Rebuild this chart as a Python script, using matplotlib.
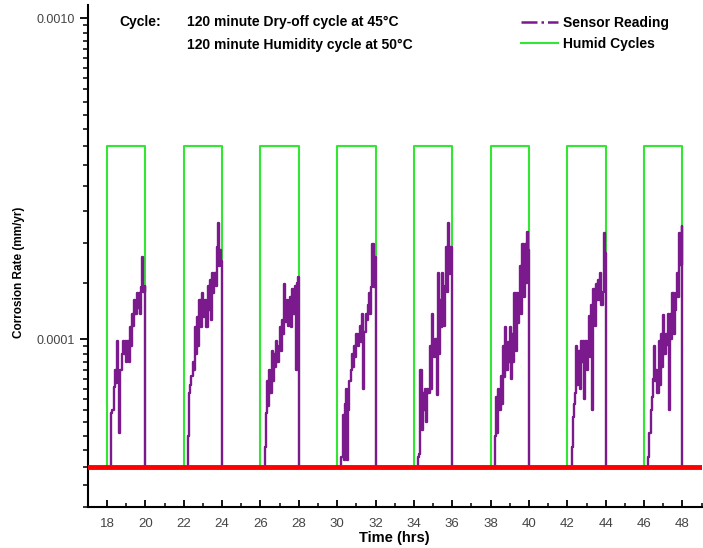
import numpy as np
import matplotlib
matplotlib.use("Agg")
import matplotlib.pyplot as plt
from matplotlib.lines import Line2D
from matplotlib.ticker import FixedLocator, FixedFormatter

plt.rcParams['font.family'] = ['Liberation Sans', 'DejaVu Sans']

# humid cycles (hrs) - 120 min humid / 120 min dry
humid_starts = [18, 22, 26, 30, 34, 38, 42, 46]
humid_length = 2.0
humid_low = 4.0e-5
humid_high = 4.0e-4

# sensor reading, sampled inside each humid cycle (units of 1e-5 mm/yr)
sample_offsets = np.round(np.arange(0.22, 1.97, 0.06), 2)
cycle1 = [5.9, 6.0, 7.1, 8.0, 7.3, 9.9, 7.5, 5.1, 8.0, 9.0, 9.9, 9.0, 9.9, 8.5, 9.9,
          8.5, 10.9, 9.5, 12.0, 11.0, 13.2, 12.0, 13.9, 12.5, 13.9, 12.0, 14.5, 18.0, 14.0, 14.6]
cycle2 = [5.0, 6.8, 7.2, 7.7, 8.5, 8.0, 10.9, 9.0, 11.7, 9.5, 13.2, 10.9, 13.9, 11.7, 12.3,
          13.2, 10.9, 14.6, 12.3, 15.3, 11.5, 16.1, 13.9, 16.1, 14.6, 19.4, 23.0, 16.9, 19.0, 17.5]
cycle3 = [4.6, 5.9, 7.4, 6.2, 8.0, 6.8, 9.2, 7.4, 9.0, 8.2, 9.9, 8.5, 9.5, 10.9, 9.2,
          11.5, 10.4, 14.9, 11.3, 13.2, 11.0, 12.3, 13.5, 10.9, 14.3, 12.0, 14.6, 8.0, 15.0, 15.6]
cycle4 = [4.3, 5.8, 4.2, 6.3, 7.0, 4.2, 6.0, 7.4, 8.0, 9.0, 8.2, 9.5, 8.8, 10.4, 9.5,
          10.4, 11.0, 9.8, 12.0, 7.0, 10.5, 12.0, 11.5, 12.8, 13.9, 12.0, 14.5, 19.8, 14.5, 18.0]
cycle5 = [4.3, 4.4, 8.0, 5.2, 6.8, 6.0, 7.0, 5.5, 7.0, 6.8, 9.5, 7.0, 12.0, 9.0, 8.8,
          10.0, 6.7, 16.1, 9.0, 13.2, 10.9, 16.1, 11.0, 14.6, 19.4, 14.0, 23.0, 16.0, 19.4, 16.5]
cycle6 = [5.0, 6.6, 5.1, 7.0, 6.0, 7.7, 6.3, 9.5, 7.6, 10.9, 8.0, 9.8, 8.5, 10.9, 7.5,
          10.4, 8.5, 13.9, 9.2, 13.9, 11.2, 12.8, 16.9, 12.0, 19.8, 13.5, 19.8, 15.0, 21.5, 19.0]
cycle7 = [4.6, 5.7, 6.3, 6.8, 9.5, 7.2, 9.2, 7.0, 9.9, 8.5, 9.9, 6.5, 9.9, 8.0, 9.0,
          11.8, 8.8, 12.8, 6.0, 14.3, 11.0, 14.9, 13.2, 15.3, 13.2, 16.1, 12.8, 14.0, 21.4, 18.5]
cycle8 = [4.3, 5.1, 6.0, 6.6, 7.5, 9.5, 7.4, 8.0, 6.8, 9.9, 7.2, 10.4, 8.2, 11.9, 9.0,
          10.4, 9.6, 12.0, 6.0, 12.0, 10.0, 13.9, 10.4, 12.3, 13.9, 16.1, 13.5, 21.4, 17.0, 22.5]
sensor_cycles = [cycle1, cycle2, cycle3, cycle4, cycle5, cycle6, cycle7, cycle8]
sensor_base = 4.0e-5
red_level = 4.0e-5

x_ticks = list(range(18, 49, 2))

# build square wave
gx, gy = [], []
for s in humid_starts:
    gx += [s, s, s + humid_length, s + humid_length]
    gy += [humid_low, humid_high, humid_high, humid_low]

# build sensor series
sx, sy = [], []
for s, vals in zip(humid_starts, sensor_cycles):
    offs = sample_offsets[:len(vals)]
    sx += [s + 0.2] + list(s + offs) + [s + humid_length]
    sy += [sensor_base] + [v * 1e-5 for v in vals] + [sensor_base]

fig = plt.figure(figsize=(7.03, 5.48), dpi=100)
ax = fig.add_axes([0.125, 0.075, 0.873, 0.916])

purple = '#7a1a8c'
green = '#33e633'
ax.plot(gx, gy, color=green, lw=1.5, zorder=2)
ax.plot(sx, sy, color=purple, lw=1.7, drawstyle='steps-post', zorder=3)
ax.axhline(red_level, color='#ff0000', lw=3.5, zorder=4)

ax.set_yscale('log')
ax.set_ylim(3.0e-5, 1.1e-3)
ax.set_xlim(17, 49)

ax.yaxis.set_major_locator(FixedLocator([1e-4, 1e-3]))
ax.yaxis.set_major_formatter(FixedFormatter(['0.0001', '0.0010']))
minor = []
for dec in [1e-5, 1e-4]:
    minor += list(dec * np.arange(1.5, 10, 0.5))
ax.yaxis.set_minor_locator(FixedLocator(minor))
ax.yaxis.set_minor_formatter(FixedFormatter([''] * len(minor)))

ax.set_xticks(x_ticks)
ax.set_xticks(range(17, 50, 2), minor=True)

for side in ['top', 'right']:
    ax.spines[side].set_visible(False)
for side in ['left', 'bottom']:
    ax.spines[side].set_linewidth(1.5)

ax.tick_params(axis='y', which='major', direction='out', length=6, width=1.3,
               labelsize=9, labelcolor='#444444')
ax.tick_params(axis='y', which='minor', direction='out', length=3.5, width=1.1)
ax.tick_params(axis='x', which='major', direction='in', length=5, width=1.3,
               labelsize=9.5, labelcolor='#444444', pad=8)
ax.tick_params(axis='x', which='minor', direction='in', length=3, width=1.1)

ax.set_xlabel('Time (hrs)', fontsize=10.5, fontweight='bold', labelpad=1)
ax.set_ylabel('Corrosion Rate (mm/yr)', fontsize=8.5, fontweight='bold')
ax.yaxis.set_label_coords(-0.103, 0.468)

ax.text(0.052, 0.966, 'Cycle:', transform=ax.transAxes, fontsize=10,
        fontweight='bold', va='center', ha='left')
ax.text(0.161, 0.966, '120 minute Dry-off cycle at 45°C', transform=ax.transAxes,
        fontsize=10, fontweight='bold', va='center', ha='left')
ax.text(0.161, 0.920, '120 minute Humidity cycle at 50°C', transform=ax.transAxes,
        fontsize=10, fontweight='bold', va='center', ha='left')

handles = [Line2D([], [], color=purple, lw=1.8, ls='-.'),
           Line2D([], [], color=green, lw=1.5)]
ax.legend(handles, ['Sensor Reading', 'Humid Cycles'], loc='upper left',
          bbox_to_anchor=(0.705, 0.978), frameon=False, borderpad=0, borderaxespad=0,
          handlelength=2.7, handletextpad=0.35, labelspacing=0.5,
          prop={'weight': 'bold', 'size': 10})

fig.savefig('out.png', dpi=100)
